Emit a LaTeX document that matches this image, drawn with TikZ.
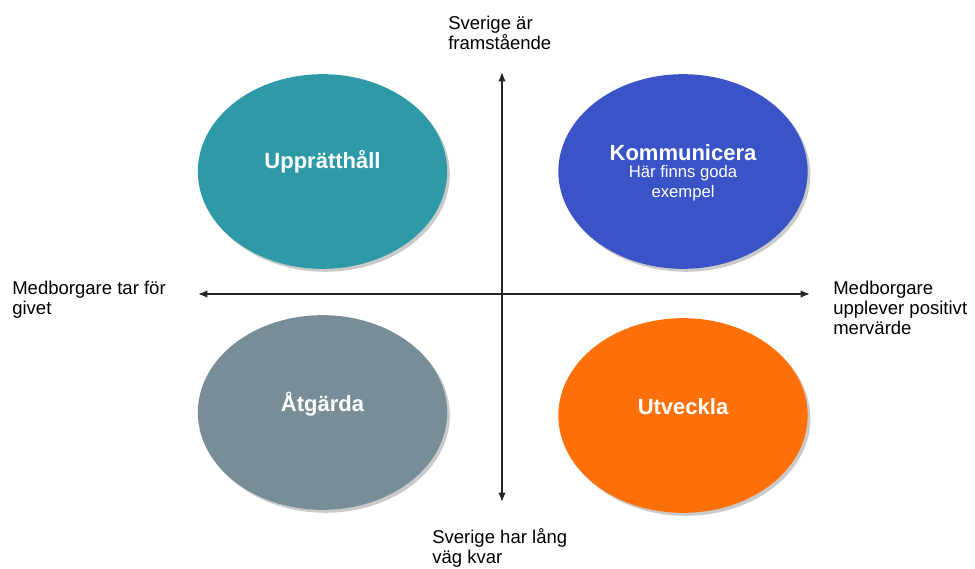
\documentclass[tikz,border=0pt]{standalone}
\usepackage{fontspec}
\setmainfont{Liberation Sans}
\usetikzlibrary{shapes.geometric,shadows,arrows.meta}
\definecolor{cteal}{HTML}{2E99A7}
\definecolor{cblue}{HTML}{3A53C6}
\definecolor{cgrey}{HTML}{778D98}
\definecolor{corange}{HTML}{FF7009}
\tikzset{
  blob/.style={ellipse, draw=none, inner sep=0pt, minimum width=187pt, minimum height=146pt,
    drop shadow={shadow xshift=2pt, shadow yshift=-2.2pt, opacity=0.35, fill=black!60}},
  big/.style={text=white, font=\bfseries\fontsize{16.5}{18}\selectfont, inner sep=0pt},
  small/.style={text=white, font=\fontsize{12.5}{15}\selectfont, inner sep=0pt, align=center},
  axlabel/.style={font=\fontsize{13.9}{15}\selectfont, inner sep=0pt, align=left, anchor=west},
  axis/.style={line width=1pt, black!85, {Latex[length=7pt,width=5.5pt]}-{Latex[length=7pt,width=5.5pt]}}
}
\begin{document}
\begin{tikzpicture}[x=0.75pt,y=-0.75pt]
\useasboundingbox (0,0) rectangle (975,568);
% ellipses
\node[blob, fill=cteal] (upp) at (322.5,171.5) {};
\node[blob, fill=cblue] (kom) at (683,171.5) {};
\node[blob, fill=cgrey] (atg) at (322.5,412.5) {};
\node[blob, fill=corange] (utv) at (683,415.5) {};
% labels
\node[big] (uppt) at (322.5,162) {Upprätthåll};
\node[big] (komt) at (683,153) {Kommunicera};
\node[small] (koms) at (683,183) {Här finns goda\\exempel};
\node[big] (atgt) at (322.5,404) {Åtgärda};
\node[big] (utvt) at (683,407) {Utveckla};
% axes
\coordinate (top) at (502,72);
\coordinate (bot) at (502,502);
\coordinate (lft) at (198,294);
\coordinate (rgt) at (810,294);
\draw[axis] (top) -- (bot);
\draw[axis] (lft) -- (rgt);
% axis labels
\node[axlabel] (ltop) at (448,32.5) {Sverige är\\framstående};
\node[axlabel] (lbot) at (432,548) {Sverige har lång\\väg kvar};
\node[axlabel] (llft) at (12,300) {Medborgare tar för\\givet};
\node[axlabel] (lrgt) at (833,307.5) {Medborgare\\upplever positivt\\mervärde};
\end{tikzpicture}
\end{document}
